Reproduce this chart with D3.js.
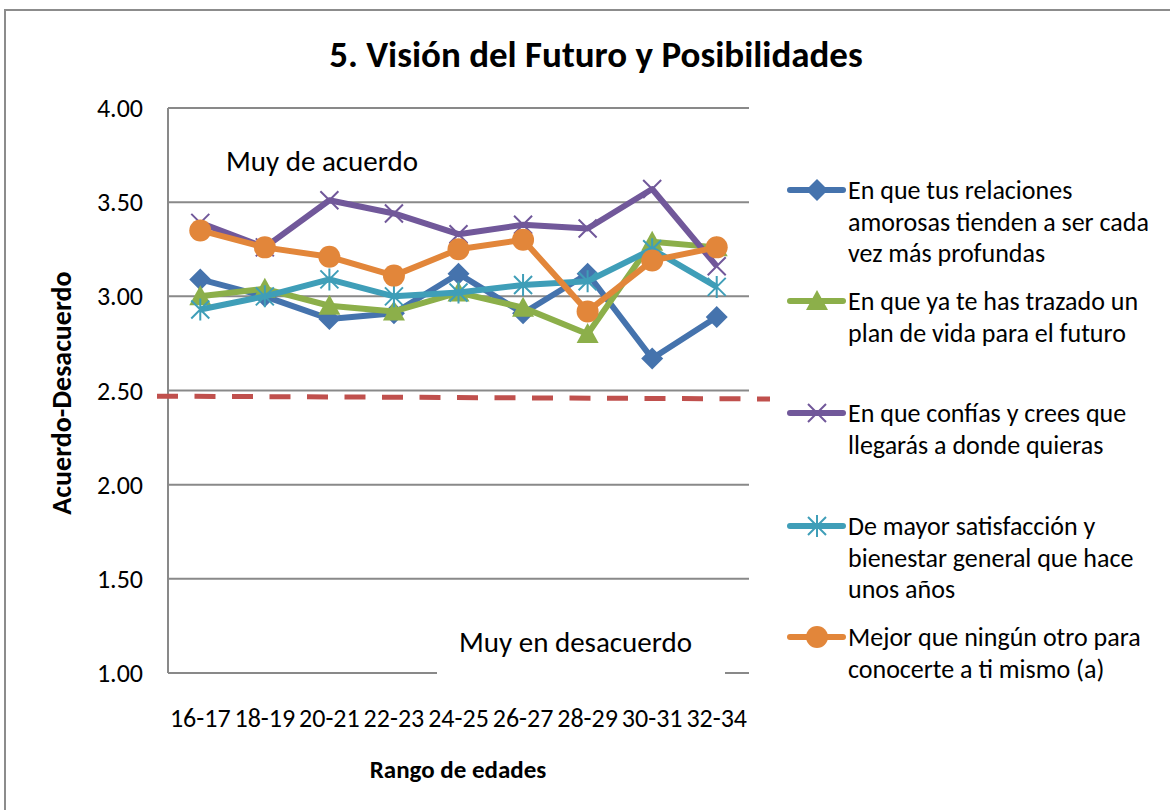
<!DOCTYPE html>
<html>
<head>
<meta charset="utf-8">
<script src="https://cdn.jsdelivr.net/npm/d3@7"></script>
<style>
  body { margin: 0; background: #fff; }
  text { font-family: Carlito, Lato, "Open Sans", sans-serif; fill: #000; }
</style>
</head>
<body>
<script>
// data
var ageRanges = ["16-17", "18-19", "20-21", "22-23", "24-25", "26-27", "28-29", "30-31", "32-34"];
var yTicks = [1.00, 1.50, 2.00, 2.50, 3.00, 3.50, 4.00];

var relacionesAmorosas = [3.09, 3.00, 2.88, 2.91, 3.12, 2.91, 3.12, 2.67, 2.89];
var planDeVida        = [3.00, 3.04, 2.95, 2.92, 3.02, 2.94, 2.80, 3.29, 3.26];
var confias           = [3.39, 3.26, 3.51, 3.44, 3.33, 3.38, 3.36, 3.57, 3.16];
var satisfaccion      = [2.93, 3.00, 3.09, 3.00, 3.02, 3.06, 3.08, 3.25, 3.05];
var conocerte         = [3.35, 3.26, 3.21, 3.11, 3.25, 3.30, 2.92, 3.19, 3.26];

var seriesNames = [
    ["En que tus relaciones", "amorosas tienden a ser cada", "vez más profundas"],
    ["En que ya te has trazado un", "plan de vida para el futuro"],
    ["En que confías y crees que", "llegarás a donde quieras"],
    ["De mayor satisfacción y", "bienestar general que hace", "unos años"],
    ["Mejor que ningún otro para", "conocerte a ti mismo (a)"]
];
// red dashed reference line (start value, end value)
var thresholdLine = [2.47, 2.455];

var series = [
    { values: relacionesAmorosas, color: "#4573AD", marker: "diamond" },
    { values: planDeVida,         color: "#8CAF4A", marker: "triangle" },
    { values: confias,            color: "#71589A", marker: "x" },
    { values: satisfaccion,       color: "#3F9EB8", marker: "asterisk" },
    { values: conocerte,          color: "#E2863A", marker: "circle" }
];

var width = 1170, height = 810;
var plotLeft = 168, plotRight = 749, plotTop = 108, plotBottom = 673;

var svg = d3.select("body").append("svg")
    .attr("width", width)
    .attr("height", height);

// chart frame
svg.append("rect")
    .attr("x", 5)
    .attr("y", 10)
    .attr("width", 1200)
    .attr("height", 820)
    .attr("fill", "#fff")
    .attr("stroke", "#8c8c8c")
    .attr("stroke-width", 2);

var xScale = d3.scaleBand()
    .domain(ageRanges)
    .range([plotLeft, plotRight]);

var yScale = d3.scaleLinear()
    .domain([1, 4])
    .range([plotBottom, plotTop]);

function xPos(i) { return xScale(ageRanges[i]) + xScale.bandwidth() / 2; }

// gridlines
svg.append("g")
    .selectAll("line")
    .data(yTicks)
    .enter()
    .append("line")
    .attr("x1", plotLeft)
    .attr("x2", plotRight)
    .attr("y1", function(d) { return yScale(d); })
    .attr("y2", function(d) { return yScale(d); })
    .attr("stroke", "#898989")
    .attr("stroke-width", 2);

// y axis line
svg.append("line")
    .attr("x1", plotLeft).attr("x2", plotLeft)
    .attr("y1", plotTop).attr("y2", plotBottom)
    .attr("stroke", "#898989")
    .attr("stroke-width", 2);

// y tick labels
svg.append("g")
    .selectAll("text")
    .data(yTicks)
    .enter()
    .append("text")
    .attr("x", 143)
    .attr("y", function(d) { return yScale(d) + 9; })
    .attr("text-anchor", "end")
    .attr("font-size", "26px")
    .text(function(d) { return d3.format(".2f")(d); });

// x tick labels
svg.append("g")
    .selectAll("text")
    .data(ageRanges)
    .enter()
    .append("text")
    .attr("x", function(d) { return xScale(d) + xScale.bandwidth() / 2; })
    .attr("y", 727)
    .attr("text-anchor", "middle")
    .attr("font-size", "26px")
    .text(function(d) { return d; });

// threshold dashed line
svg.append("line")
    .attr("x1", 157)
    .attr("x2", 770)
    .attr("y1", yScale(thresholdLine[0]))
    .attr("y2", yScale(thresholdLine[1]))
    .attr("stroke", "#C0504D")
    .attr("stroke-width", 5)
    .attr("stroke-dasharray", "21,16.5");

// text boxes inside plot
svg.append("text")
    .attr("x", 226)
    .attr("y", 171)
    .attr("font-size", "29px")
    .text("Muy de acuerdo");

svg.append("rect")
    .attr("x", 437)
    .attr("y", 618)
    .attr("width", 288)
    .attr("height", 57)
    .attr("fill", "#fff");

svg.append("text")
    .attr("x", 459)
    .attr("y", 652)
    .attr("font-size", "29px")
    .text("Muy en desacuerdo");

// markers
function drawMarker(g, type, color, x, y) {
    if (type === "diamond") {
        g.append("path")
            .attr("d", "M" + x + "," + (y - 11) + "L" + (x + 11) + "," + y + "L" + x + "," + (y + 11) + "L" + (x - 11) + "," + y + "Z")
            .attr("fill", color);
    } else if (type === "triangle") {
        g.append("path")
            .attr("d", "M" + x + "," + (y - 11) + "L" + (x + 11) + "," + (y + 9) + "L" + (x - 11) + "," + (y + 9) + "Z")
            .attr("fill", color);
    } else if (type === "circle") {
        g.append("circle")
            .attr("cx", x).attr("cy", y).attr("r", 11)
            .attr("fill", color);
    } else if (type === "x") {
        g.append("path")
            .attr("d", "M" + (x - 9) + "," + (y - 9) + "L" + (x + 9) + "," + (y + 9) + "M" + (x + 9) + "," + (y - 9) + "L" + (x - 9) + "," + (y + 9))
            .attr("stroke", color).attr("stroke-width", 2);
    } else if (type === "asterisk") {
        g.append("path")
            .attr("d", "M" + (x - 9) + "," + (y - 9) + "L" + (x + 9) + "," + (y + 9) + "M" + (x + 9) + "," + (y - 9) + "L" + (x - 9) + "," + (y + 9) +
                "M" + x + "," + (y - 11) + "L" + x + "," + (y + 11))
            .attr("stroke", color).attr("stroke-width", 2);
    }
}

var line = d3.line()
    .x(function(d, i) { return xPos(i); })
    .y(function(d) { return yScale(d); });

series.forEach(function(s) {
    var g = svg.append("g");
    g.append("path")
        .datum(s.values)
        .attr("d", line)
        .attr("fill", "none")
        .attr("stroke", s.color)
        .attr("stroke-width", 6)
        .attr("stroke-linejoin", "round");
    s.values.forEach(function(v, i) {
        drawMarker(g, s.marker, s.color, xPos(i), yScale(v));
    });
});

// legend
var legendY = [190, 301, 413, 526, 637];
series.forEach(function(s, k) {
    var g = svg.append("g");
    g.append("line")
        .attr("x1", 790).attr("x2", 843)
        .attr("y1", legendY[k]).attr("y2", legendY[k])
        .attr("stroke", s.color)
        .attr("stroke-width", 6)
        .attr("stroke-linecap", "round");
    drawMarker(g, s.marker, s.color, 817, legendY[k]);
    seriesNames[k].forEach(function(t, j) {
        g.append("text")
            .attr("x", 848)
            .attr("y", legendY[k] + 9 + j * 31.5)
            .attr("font-size", "26px")
            .text(t);
    });
});

// titles
svg.append("text")
    .attr("x", 596)
    .attr("y", 67)
    .attr("text-anchor", "middle")
    .attr("font-size", "37px")
    .attr("font-weight", "bold")
    .text("5. Visión del Futuro y Posibilidades");

svg.append("text")
    .attr("transform", "translate(71,393) rotate(-90)")
    .attr("text-anchor", "middle")
    .attr("font-size", "28px")
    .attr("font-weight", "bold")
    .text("Acuerdo-Desacuerdo");

svg.append("text")
    .attr("x", 458)
    .attr("y", 778)
    .attr("text-anchor", "middle")
    .attr("font-size", "25px")
    .attr("font-weight", "bold")
    .text("Rango de edades");
</script>
</body>
</html>
